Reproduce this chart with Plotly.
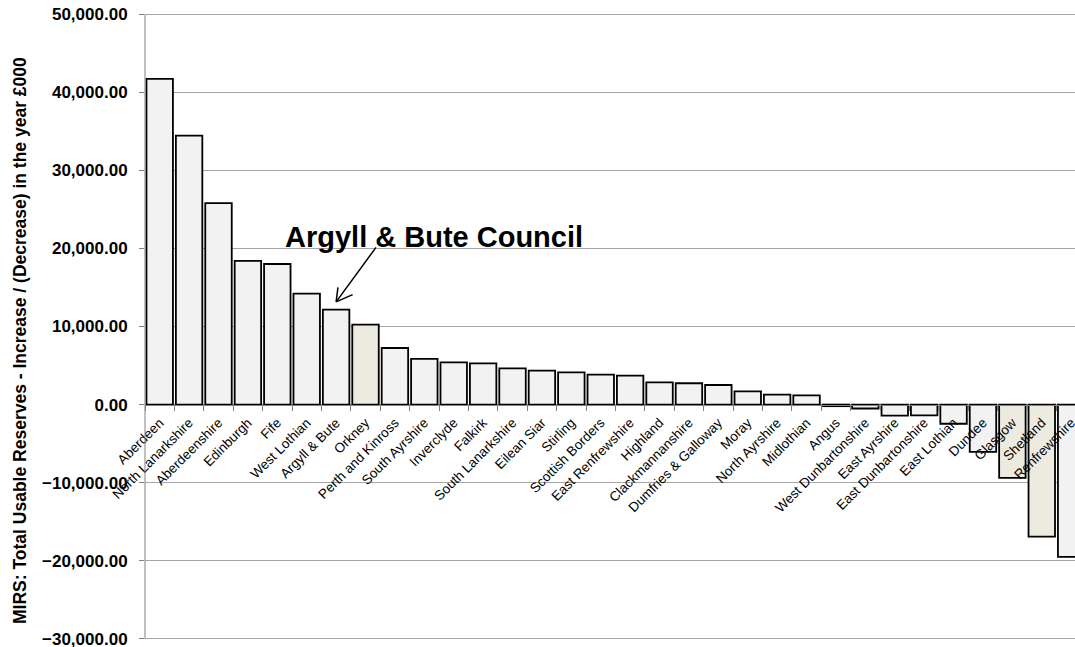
import plotly.graph_objects as go

councils = ["Aberdeen", "North Lanarkshire", "Aberdeenshire", "Edinburgh", "Fife",
            "West Lothian", "Argyll & Bute", "Orkney", "Perth and Kinross", "South Ayrshire",
            "Inverclyde", "Falkirk", "South Lanarkshire", "Eilean Siar", "Stirling",
            "Scottish Borders", "East Renfrewshire", "Highland", "Clackmannanshire",
            "Dumfries & Galloway", "Moray", "North Ayrshire", "Midlothian", "Angus",
            "West Dunbartonshire", "East Ayrshire", "East Dunbartonshire", "East Lothian",
            "Dundee", "Glasgow", "Shetland", "Renfrewshire"]

reserves_change = [41700, 34450, 25800, 18400, 18000, 14200, 12150, 10250, 7250, 5850,
                   5400, 5280, 4650, 4350, 4130, 3840, 3710, 2850, 2730, 2510,
                   1700, 1280, 1190, -200, -500, -1400, -1380, -2450,
                   -6050, -9380, -16900, -19500]

highlighted = ["Orkney", "Glasgow", "Shetland"]

y_ticks = [50000, 40000, 30000, 20000, 10000, 0, -10000, -20000, -30000]

Y_MIN, Y_MAX = -30400, 50400

FONT = "Arial, Liberation Sans, sans-serif"
colors = ["#EDEBE0" if c in highlighted else "#F2F2F2" for c in councils]

fig = go.Figure(go.Bar(
    x=councils, y=reserves_change,
    marker=dict(color=colors, line=dict(color="#000000", width=1.8)),
    width=0.9,
))

fig.update_layout(
    width=1075, height=647,
    margin=dict(l=145, r=0, t=11, b=5),
    plot_bgcolor="white", paper_bgcolor="white",
    showlegend=False,
    font=dict(family=FONT, color="black"),
)

fig.update_yaxes(
    range=[Y_MIN, Y_MAX], tickvals=y_ticks, tickformat=",.2f",
    tickfont=dict(size=17, family=FONT, color="black", weight="bold"),
    showgrid=True, gridcolor="#A6A6A6", gridwidth=1,
    zeroline=False, showline=False,
    ticks="outside", ticklen=5, tickcolor="#808080",
    ticklabelstandoff=8, ticklabeloverflow="allow",
    automargin=False,
)

fig.update_xaxes(
    type="category", range=[-0.5, 31.13],
    anchor="free", position=(0 - Y_MIN) / (Y_MAX - Y_MIN),
    tickangle=-45, tickfont=dict(size=13.5, family=FONT, color="black"),
    ticks="outside", ticklen=5, tickcolor="#808080", tickson="boundaries",
    ticklabelstandoff=4,
    showline=True, linecolor="#808080", linewidth=1,
    showgrid=False, automargin=False,
)

# y-axis line spanning from the lowest to the highest tick
fig.add_shape(type="line", xref="paper", yref="y", x0=0, x1=0,
              y0=min(y_ticks), y1=max(y_ticks), line=dict(color="#808080", width=1))

# y-axis title (placed as annotation to match its offset)
fig.add_annotation(x=-125 / 930, y=0.477, xref="paper", yref="paper",
                   text="<b>MIRS: Total Usable Reserves - Increase / (Decrease) in the year £000</b>",
                   textangle=-90, showarrow=False, xanchor="center", yanchor="middle",
                   font=dict(size=17.5, family=FONT, color="black"))

# annotation text
fig.add_annotation(x=9.33, y=21400, xref="x", yref="y", text="<b>Argyll & Bute Council</b>",
                   showarrow=False, font=dict(size=29, family=FONT, color="black"))
# arrow shaft and open arrowhead arms
for ax_off, ay_off in [(41, -56), (2, -16), (18, -8)]:
    fig.add_annotation(x="Argyll & Bute", y=13150, xref="x", yref="y", text="",
                       showarrow=True, arrowhead=0, arrowwidth=1.5, arrowcolor="black",
                       ax=ax_off, ay=ay_off, standoff=0, startstandoff=0,
                       font=dict(size=1))

fig.write_html("out.html")
